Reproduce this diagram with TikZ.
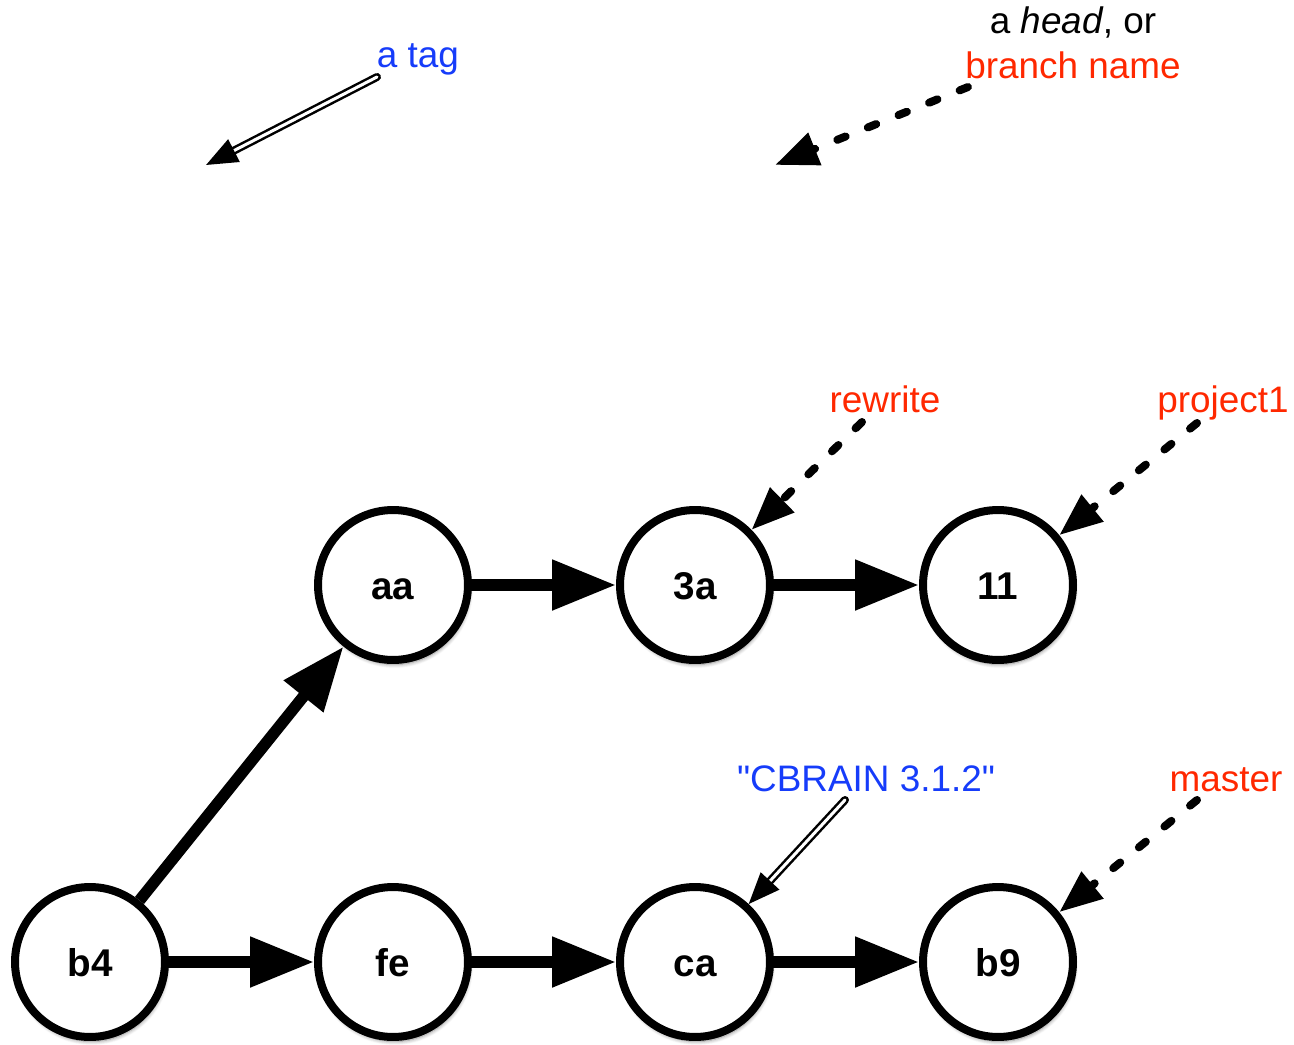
\documentclass[tikz,border=0pt]{standalone}
\usepackage{fontspec}
\setmainfont{Liberation Sans}[Ligatures=TeXOff]
\usepackage{xcolor}
\usetikzlibrary{positioning,arrows.meta,shadows,shadows.blur}

\definecolor{tagblue}{RGB}{22,60,250}
\definecolor{branchred}{RGB}{255,40,0}
\newcommand{\labelfont}{\fontsize{21}{25}\selectfont}
\newcommand{\commitfont}{\fontsize{22}{26}\selectfont\bfseries}

\tikzset{
  commit/.style={circle, draw, line width=0.16cm, minimum size=3cm, fill=white,
    font=\commitfont, text height=16pt, text depth=0pt,
    blur shadow={shadow blur steps=8, shadow xshift=0.03cm,
      shadow yshift=-0.09cm, shadow opacity=45}},
  parent/.style={line width=0.23cm, -{Triangle[length=1.28cm,width=0.96cm]}},
  branchptr/.style={line width=0.16cm, line cap=round,
    dash pattern=on 0.18cm off 0.48cm, -{Triangle[length=0.86cm,width=0.66cm]}},
  tagptr/.style={double, line width=0.05cm, double distance=0.06cm, line cap=round,
    -{Triangle[length=0.63cm,width=0.5cm]}},
  ptrlabel/.style={font=\labelfont, inner sep=0pt, anchor=base},
}

\begin{document}
\begin{tikzpicture}[x=0.02cm, y=-0.02cm]
\useasboundingbox (0,0) rectangle (1294,1044);

% commits
\foreach \name/\x/\y in {b4/90/962, fe/393/962, ca/695/962, b9/998/962,
                         aa/393/585, 3a/695/585, 11/998/585} {
  \node[commit] (\name) at (\x,\y) {\name};
}
\foreach \a/\b in {b4/fe, fe/ca, ca/b9, b4/aa, aa/3a, 3a/11} {
  \draw[parent] (\a) -- (\b);
}

% legend
\node[ptrlabel, text=tagblue] (tag) at (418,68) {a tag};
\node[ptrlabel] (head) at (1073,34) {a \textit{head}, or};
\node[ptrlabel, text=branchred] (branch) at (1073,79) {branch name};
\coordinate (tagtail) at (377,77);
\coordinate (tagtip) at (206,165);
\coordinate (headtail) at (968,87);
\coordinate (headtip) at (775,165);
\draw[tagptr] (tagtail) -- (tagtip);
\draw[branchptr] (headtail) -- (headtip);

% branches and tags
\node[ptrlabel, text=branchred] (rewrite) at (885,412) {rewrite};
\node[ptrlabel, text=branchred] (project1) at (1223,412) {project1};
\node[ptrlabel, text=branchred] (master) at (1226,791) {master};
\node[ptrlabel, text=tagblue] (cbrain) at (866,791) {"CBRAIN 3.1.2"};
\coordinate (rewritetail) at (862,422);
\coordinate (project1tail) at (1197,423);
\coordinate (mastertail) at (1197,800);
\coordinate (cbraintail) at (845,800);
\draw[branchptr] (rewritetail) -- (3a);
\draw[branchptr] (project1tail) -- (11);
\draw[branchptr] (mastertail) -- (b9);
\draw[tagptr] (cbraintail) -- (ca);
\end{tikzpicture}
\end{document}
